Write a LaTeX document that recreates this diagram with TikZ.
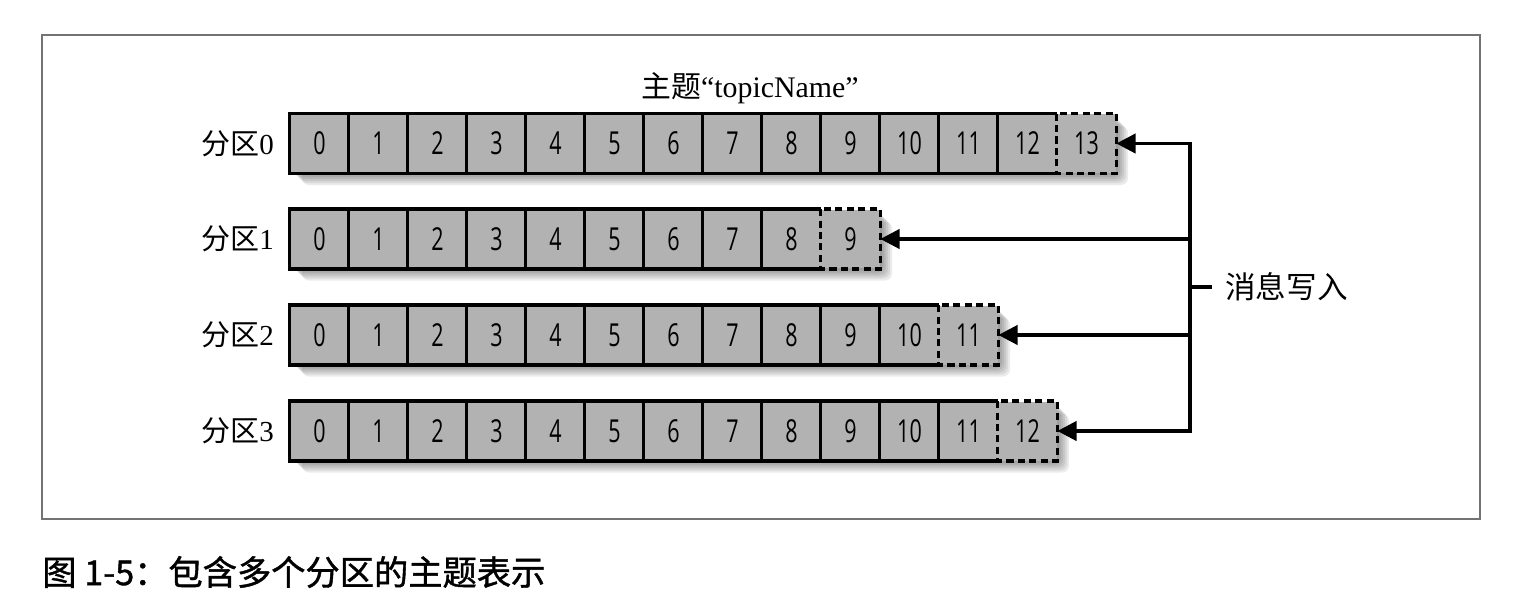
\documentclass[tikz,border=0pt]{standalone}
\usepackage{fontspec}
\setmainfont{Liberation Serif}
\newfontfamily\cjk{Noto Sans CJK SC}
\newfontfamily\capfont[FakeBold=1.2]{Noto Sans CJK SC}
\newfontfamily\numfont[FakeStretch=0.68]{Open Sans}
\usetikzlibrary{arrows.meta}

\definecolor{cellgray}{gray}{0.7}
\definecolor{framegray}{gray}{0.45}

\tikzset{
	cell/.style={fill=cellgray, minimum width=1.18cm, minimum height=1.18cm, inner sep=0pt, font=\numfont\fontsize{18}{20}\selectfont},
	rim/.style={line width=2pt, line join=miter},
	newrim/.style={rim, dash pattern=on 4pt off 2.5pt},
	wire/.style={line width=2pt, line cap=rect},
	tip/.style={-{Triangle[length=11pt, width=11pt]}},
	lbl/.style={font=\fontsize{16.5}{18}\selectfont}
}

\begin{document}
\begin{tikzpicture}[x=0.02cm, y=-0.02cm]
	\useasboundingbox (0,0) rectangle (1524,602);
	\draw[framegray, line width=0.6pt] (42,35) rectangle (1480,519);
	
	\node[lbl, font=\fontsize{17}{18}\selectfont] (title) at (750,88) {{\cjk 主题}“topicName”};
	
	\foreach \row/\n/\y [evaluate=\n as \m using {int(\n-1)}] in {0/13/143.5, 1/9/239, 2/11/335, 3/12/431}
	{
		% soft shadow
		\foreach \k in {2,4,...,12}
			\fill[black, opacity=0.08, rounded corners=4pt] (290+\k,\y-29.5+\k) rectangle (349+59*\n+\k,\y+29.5+\k);
		
		\node[lbl, anchor=east] (part\row) at (280,\y) {{\cjk 分区}\row};
		\foreach \i in {0,...,\n}
			\node[cell] (cell\row-\i) at (319.5+59*\i,\y) {\i};
		
		% written messages
		\draw[rim] (cell\row-\m.north east) -- (cell\row-0.north west) -- (cell\row-0.south west) -- (cell\row-\m.south east);
		\foreach \i in {1,...,\m}
			\draw[rim] (cell\row-\i.north west) -- (cell\row-\i.south west);
		
		% next message
		\draw[newrim] (cell\row-\n.north west) rectangle (cell\row-\n.south east);
	}
	
	\coordinate (bus) at (1190,287);
	\node[lbl, anchor=west, inner sep=0pt, font=\fontsize{17.4}{18}\selectfont] (write) at (1225,287) {\cjk 消息写入};
	\draw[wire] (cell0-13.east -| bus) -- (cell3-12.east -| bus);
	\draw[wire] (bus) -- ([xshift=-0.3cm]write.west);
	\foreach \row/\n in {0/13, 1/9, 2/11, 3/12}
		\draw[wire, tip] (cell\row-\n.east -| bus) -- (cell\row-\n.east);
	
	\node[anchor=west, inner sep=0pt, font=\capfont\fontsize{19.5}{21}\selectfont] (caption) at (42,572) {图 1-5：包含多个分区的主题表示};
\end{tikzpicture}
\end{document}
